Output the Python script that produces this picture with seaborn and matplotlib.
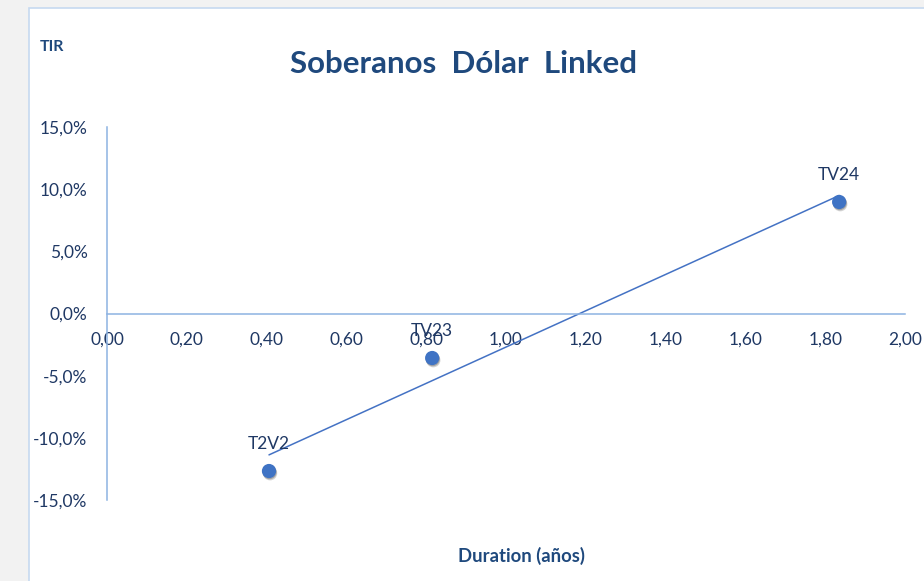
import matplotlib
matplotlib.use("Agg")
import matplotlib.pyplot as plt
import matplotlib.patheffects as pe
from matplotlib.patches import Rectangle
from matplotlib.ticker import FuncFormatter, MultipleLocator
import seaborn as sns
import pandas as pd

# Data
bonds = ["T2V2", "TV23", "TV24"]
duration = [0.406, 0.815, 1.835]
tir = [-12.67, -3.58, 8.97]

title = "Soberanos  Dólar  Linked"
xlabel = "Duration (años)"
ylabel = "TIR"

df = pd.DataFrame({"bono": bonds, "duration": duration, "tir": tir})

sns.set_theme(style="white")
plt.rcParams["font.family"] = ["Lato", "DejaVu Sans"]

TXT = "#1f3864"
TITLE = "#1f497d"
AXC = "#8db3e2"
PT = "#3f73c4"

W, H = 924, 581
fig = plt.figure(figsize=(W / 100, H / 100), dpi=100, facecolor="#f2f2f2")
fig.patches.append(Rectangle((29 / W, -0.01), 1.0, (H - 8) / H + 0.01,
                             transform=fig.transFigure, facecolor="white",
                             edgecolor="#c6d9f0", linewidth=1.2, zorder=-10))

ax = fig.add_axes([107 / W, 81 / H, (905 - 107) / W, (500 - 127) / H])
ax.set_facecolor("none")
ax.set_zorder(2)

sns.regplot(data=df, x="duration", y="tir", ax=ax, scatter=False, ci=None,
            truncate=True, line_kws={"color": "#4472c4", "linewidth": 1.1})
sns.scatterplot(data=df, x="duration", y="tir", ax=ax, s=105, color=PT,
                edgecolor="none", zorder=5, legend=False)
for coll in ax.collections:
    coll.set_path_effects([
        pe.SimplePatchShadow(offset=(0.8, -1.6), shadow_rgbFace="#505050", alpha=0.25),
        pe.SimplePatchShadow(offset=(0.4, -0.8), shadow_rgbFace="#505050", alpha=0.35),
        pe.Normal()])

for b, x, y in zip(bonds, duration, tir):
    ax.annotate(b, (x, y), xytext=(0, 14), textcoords="offset points",
                ha="center", va="bottom", fontsize=12.5, color=TXT)

ax.set_xlim(0, 2.0)
ax.set_ylim(-15, 15)
ax.xaxis.set_major_locator(MultipleLocator(0.2))
ax.yaxis.set_major_locator(MultipleLocator(5))
ax.xaxis.set_major_formatter(FuncFormatter(lambda v, p: f"{v:.2f}".replace(".", ",")))
ax.yaxis.set_major_formatter(FuncFormatter(lambda v, p: f"{v:.1f}%".replace(".", ",")))

for s in ["top", "right"]:
    ax.spines[s].set_visible(False)
ax.spines["bottom"].set_position(("data", 0))
for s in ["left", "bottom"]:
    ax.spines[s].set_color(AXC)
    ax.spines[s].set_linewidth(1.1)

ax.tick_params(axis="x", length=0, pad=13, labelsize=12.5, colors=TXT)
ax.tick_params(axis="y", length=0, pad=14, labelsize=12.5, colors=TXT)
ax.set_xlabel("")
ax.set_ylabel("")

fig.text(521 / W, 1 - 556 / H, xlabel, ha="center", va="center",
         fontsize=13.3, fontweight="bold", color=TITLE)
fig.text(40 / W, 1 - 47 / H, ylabel, ha="left", va="center",
         fontsize=11.5, fontweight="bold", color=TITLE)
fig.text(463 / W, 1 - 64 / H, title, ha="center", va="center",
         fontsize=22.5, fontweight="bold", color=TITLE)

fig.savefig("out.png", dpi=100, facecolor=fig.get_facecolor())
